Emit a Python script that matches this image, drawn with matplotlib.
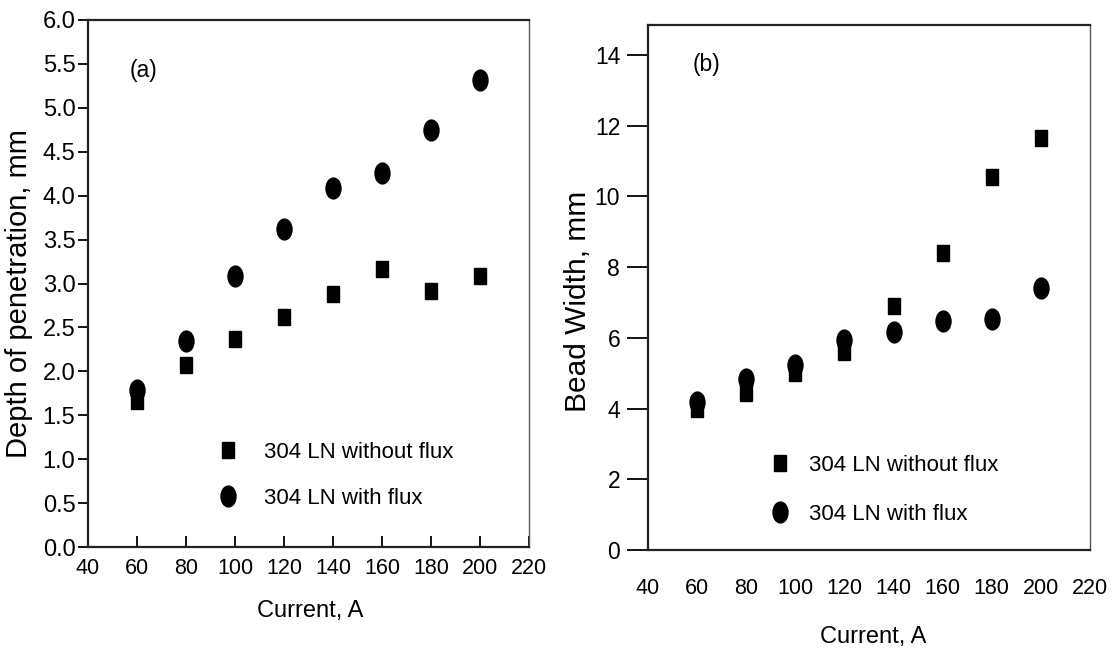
import numpy as np
import matplotlib
matplotlib.use('Agg')
import matplotlib.pyplot as plt
from matplotlib.markers import MarkerStyle
from matplotlib.transforms import Affine2D

plt.rcParams['font.family'] = ['Liberation Sans', 'DejaVu Sans']

# data
current = [60, 80, 100, 120, 140, 160, 180, 200]
depth_no_flux = [1.66, 2.07, 2.37, 2.62, 2.88, 3.17, 2.91, 3.08]
depth_flux = [1.79, 2.34, 3.08, 3.62, 4.09, 4.26, 4.75, 5.32]
width_no_flux = [4.0, 4.43, 5.0, 5.6, 6.9, 8.4, 10.55, 11.64]
width_flux = [4.19, 4.83, 5.23, 5.95, 6.17, 6.49, 6.54, 7.41]

x_ticks = [40, 60, 80, 100, 120, 140, 160, 180, 200, 220]
depth_ticks = [0.0, 0.5, 1.0, 1.5, 2.0, 2.5, 3.0, 3.5, 4.0, 4.5, 5.0, 5.5, 6.0]
width_ticks = [0, 2, 4, 6, 8, 10, 12, 14]

lab_no = '304 LN without flux'
lab_fl = '304 LN with flux'

# tall markers, the original looks squeezed sideways
sq = MarkerStyle('s', transform=Affine2D().scale(0.7, 1.0))
ci = MarkerStyle('o', transform=Affine2D().scale(0.72, 1.0))

fig = plt.figure(figsize=(11.19, 6.52), dpi=100)
ax1 = fig.add_axes([88/1119, 1-547/652, 441/1119, 527/652])
ax2 = fig.add_axes([648/1119, 1-550/652, 442/1119, 525/652])

# (a) depth of penetration
ax1.plot(current, depth_no_flux, ls='none', marker=sq, ms=12, color='k', label=lab_no)
ax1.plot(current, depth_flux, ls='none', marker=ci, ms=15, color='k', label=lab_fl)
ax1.set_xlim(40, 220)
ax1.set_ylim(0, 6)
ax1.set_xticks(x_ticks)
ax1.set_yticks(depth_ticks)
ax1.set_yticklabels(['%.1f' % v for v in depth_ticks])
ax1.tick_params(axis='x', direction='in', length=8, width=1.3, pad=8, labelsize=15.5)
ax1.tick_params(axis='y', direction='out', length=7, width=1.3, pad=2, labelsize=17)
ax1.set_xlabel('Current, A', fontsize=17)
ax1.xaxis.set_label_coords(0.503, -0.10)
ax1.set_ylabel('Depth of penetration, mm', fontsize=21)
ax1.yaxis.set_label_coords(-0.125, 0.48)
ax1.text(0.125, 0.905, '(a)', transform=ax1.transAxes, ha='center', va='center', fontsize=16.5)
ax1.legend(loc='center left', bbox_to_anchor=(0.288, 0.136), frameon=False, fontsize=16,
           borderaxespad=0, borderpad=0, handlelength=1.2, handletextpad=1.0, labelspacing=1.15)

# (b) bead width
ax2.plot(current, width_no_flux, ls='none', marker=sq, ms=12, color='k', label=lab_no)
ax2.plot(current, width_flux, ls='none', marker=ci, ms=15, color='k', label=lab_fl)
ax2.set_xlim(40, 220)
ax2.set_ylim(0, 14.85)
ax2.set_xticks(x_ticks)
ax2.set_yticks(width_ticks)
ax2.tick_params(axis='x', length=0, pad=20, labelsize=15.5)
ax2.tick_params(axis='y', direction='out', length=15, width=1.3, pad=5, labelsize=16.5)
ax2.set_xlabel('Current, A', fontsize=17)
ax2.xaxis.set_label_coords(0.509, -0.145)
ax2.set_ylabel('Bead Width, mm', fontsize=21.5)
ax2.yaxis.set_label_coords(-0.127, 0.474)
ax2.text(0.133, 0.924, '(b)', transform=ax2.transAxes, ha='center', va='center', fontsize=16.5)
ax2.legend(loc='center left', bbox_to_anchor=(0.268, 0.115), frameon=False, fontsize=16,
           borderaxespad=0, borderpad=0, handlelength=1.2, handletextpad=0.72, labelspacing=1.25)

for ax in (ax1, ax2):
    for s in ('left', 'bottom', 'top'):
        ax.spines[s].set_linewidth(1.6)
        ax.spines[s].set_color('#222222')
    ax.spines['right'].set_linewidth(1.0)
    ax.spines['right'].set_color('#555555')

fig.savefig('out.png', dpi=100)
